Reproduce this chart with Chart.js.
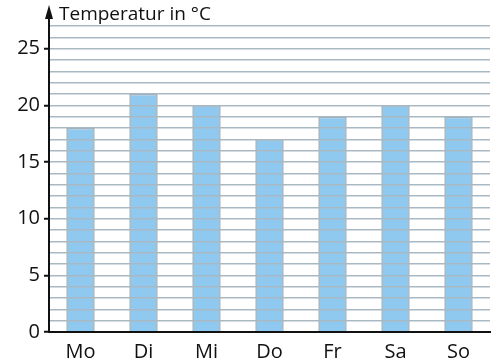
<!DOCTYPE html>
<html>
<head>
<meta charset="utf-8">
<script src="https://cdn.jsdelivr.net/npm/chart.js@4/dist/chart.umd.min.js"></script>
<style>
  html, body { margin: 0; padding: 0; background: #fff; }
  #wrap { width: 499px; height: 360px; }
</style>
</head>
<body>
<div id="wrap"><canvas id="chart"></canvas></div>
<script>
const days = ["Mo", "Di", "Mi", "Do", "Fr", "Sa", "So"];
const temps = [18, 21, 20, 17, 19, 20, 19];
const yMax = 27;
const axisTitle = "Temperatur in °C";

const FONT = "'Open Sans', 'Noto Sans', sans-serif";

// arrow on top of the y axis plus the axis title
const axisDeco = {
  id: "axisDeco",
  afterDraw(chart) {
    const ctx = chart.ctx;
    const x = chart.scales.y.right;
    ctx.save();
    ctx.strokeStyle = "#111";
    ctx.lineWidth = 2;
    ctx.beginPath();
    ctx.moveTo(x, chart.chartArea.top);
    ctx.lineTo(x, 16);
    ctx.stroke();
    ctx.fillStyle = "#111";
    ctx.beginPath();
    ctx.moveTo(x, 5);
    ctx.lineTo(x - 4, 19);
    ctx.lineTo(x + 4, 19);
    ctx.closePath();
    ctx.fill();
    ctx.font = "19px " + FONT;
    ctx.textBaseline = "middle";
    ctx.fillText(axisTitle, x + 10, 15);
    ctx.restore();
  }
};

new Chart(document.getElementById("chart"), {
  type: "bar",
  data: {
    labels: days,
    datasets: [{
      data: temps,
      backgroundColor: "#90c9ef",
      borderColor: "#9aa9b3",
      borderWidth: 1.5,
      barPercentage: 0.45,
      categoryPercentage: 1
    }]
  },
  options: {
    responsive: true,
    maintainAspectRatio: false,
    animation: false,
    layout: { padding: { top: 26, right: 9, left: 0, bottom: 0 } },
    plugins: { legend: { display: false }, tooltip: { enabled: false } },
    scales: {
      x: {
        grid: { display: false },
        border: { color: "#111", width: 2, z: 2 },
        ticks: { color: "#111", font: { family: FONT, size: 20 }, padding: 0 },
        afterFit(s) { s.height = 28; }
      },
      y: {
        min: 0,
        max: yMax,
        border: { color: "#111", width: 2, z: 2 },
        grid: {
          z: 1,
          color: (c) => c.tick && c.tick.value === 0 ? "rgba(0,0,0,0)" : "#a9b9c4",
          lineWidth: 1.5,
          tickLength: 5,
          tickColor: (c) => c.tick && c.tick.value % 5 === 0 ? "#111" : "rgba(0,0,0,0)",
          tickWidth: 2
        },
        ticks: {
          stepSize: 1,
          autoSkip: false,
          color: "#111",
          font: { family: FONT, size: 20 },
          padding: 4,
          callback: (v) => (v % 5 === 0 ? v : "")
        },
        afterFit(s) { s.width = 49; }
      }
    }
  },
  plugins: [axisDeco]
});
</script>
</body>
</html>
